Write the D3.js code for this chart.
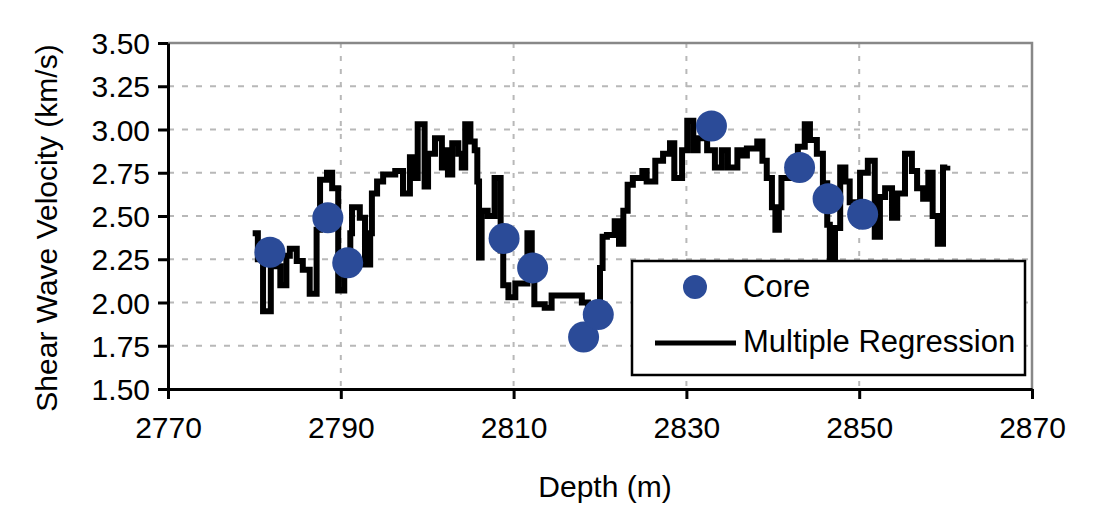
<!DOCTYPE html>
<html><head><meta charset="utf-8">
<script src="https://cdn.jsdelivr.net/npm/d3@7"></script>
<style>body{margin:0;background:#fff}svg text{font-family:"Liberation Sans",Arial,sans-serif;fill:#000}</style>
</head><body><svg id="c" width="1100" height="520"></svg>
<script>
const coreDepth = [2781.8, 2788.5, 2790.8, 2808.9, 2812.2, 2818.1, 2819.8, 2832.9, 2843.1, 2846.4, 2850.4];
const coreVel   = [2.29, 2.49, 2.23, 2.37, 2.20, 1.80, 1.93, 3.02, 2.78, 2.60, 2.51];

const regDepth = [2779.8,2780.4,2781.0,2781.9,2783.0,2783.7,2784.1,2784.9,2785.6,2786.4,2787.2,2787.6,2788.4,2789.0,2789.7,2790.4,2791.1,2791.3,2792.2,2792.8,2793.4,2793.6,2794.2,2794.9,2796.3,2797.2,2798.0,2798.6,2798.9,2799.7,2800.1,2800.9,2801.7,2802.1,2802.4,2802.9,2803.6,2804.0,2804.4,2805.0,2805.5,2805.8,2806.0,2806.3,2807.0,2807.8,2808.5,2808.8,2809.4,2810.2,2811.6,2812.1,2812.4,2813.6,2814.4,2817.9,2818.6,2820.0,2820.3,2820.8,2821.7,2822.2,2822.7,2823.2,2823.8,2824.9,2825.4,2826.4,2827.3,2828.1,2828.6,2829.5,2830.1,2830.8,2831.3,2832.4,2833.3,2834.1,2834.8,2835.9,2836.4,2837.0,2838.2,2838.8,2839.3,2839.9,2840.3,2840.7,2841.0,2842.0,2842.9,2843.7,2844.3,2845.1,2845.8,2846.3,2846.6,2847.2,2847.8,2848.4,2848.9,2849.5,2850.1,2851.0,2851.8,2852.4,2853.0,2853.8,2854.4,2855.3,2856.1,2856.7,2857.4,2858.0,2858.5,2859.1,2859.7,2860.2];
const regVel = [2.40,2.25,1.95,2.21,2.10,2.27,2.31,2.24,2.19,2.05,2.42,2.71,2.75,2.66,2.07,2.22,2.40,2.55,2.49,2.22,2.40,2.63,2.70,2.74,2.76,2.63,2.84,2.72,3.03,2.67,2.86,2.95,2.78,2.88,2.74,2.92,2.86,2.78,3.03,2.93,2.88,2.70,2.26,2.53,2.50,2.72,2.30,2.10,2.03,2.11,2.40,2.22,1.99,1.97,2.04,2.00,1.99,2.20,2.38,2.39,2.47,2.34,2.53,2.68,2.72,2.76,2.70,2.82,2.86,2.92,2.72,2.88,3.05,2.88,2.95,2.88,2.78,2.88,2.78,2.88,2.85,2.89,2.93,2.82,2.72,2.55,2.42,2.55,2.72,2.78,2.90,3.03,2.94,2.86,2.69,2.45,2.24,2.43,2.78,2.70,2.58,2.50,2.75,2.82,2.38,2.61,2.66,2.49,2.63,2.86,2.76,2.66,2.60,2.75,2.50,2.34,2.78,2.79];

const xTicks = [2770, 2790, 2810, 2830, 2850, 2870];
const yTicks = [1.50, 1.75, 2.00, 2.25, 2.50, 2.75, 3.00, 3.25, 3.50];
const xTitle = "Depth (m)";
const yTitle = "Shear Wave Velocity (km/s)";
const legendLabels = ["Core", "Multiple Regression"];

const svg = d3.select("#c");
const L = 168, R = 1032, T = 43, B = 389;
const x = d3.scaleLinear().domain([2770, 2870]).range([L, R]);
const y = d3.scaleLinear().domain([1.5, 3.5]).range([B, T]);
const blue = "#2b4b98";
const FS = 30;

// gridlines
const grid = svg.append("g");
grid.selectAll(".hg").data(yTicks.filter(v => v > 1.5 && v < 3.5)).join("line")
  .attr("x1", L).attr("x2", R).attr("y1", d => y(d)).attr("y2", d => y(d))
  .attr("stroke", "#b8b8b8").attr("stroke-width", 2).attr("stroke-dasharray", "6,8");
grid.selectAll(".vg").data(xTicks.filter(v => v > 2770 && v < 2870)).join("line")
  .attr("y1", T).attr("y2", B).attr("x1", d => x(d)).attr("x2", d => x(d))
  .attr("stroke", "#b8b8b8").attr("stroke-width", 2).attr("stroke-dasharray", "5,8");

// frame top/right
svg.append("path").attr("d", `M${L},${T}H${R}V${B}`).attr("fill", "none")
  .attr("stroke", "#888").attr("stroke-width", 2.5);

// axes
const xa = svg.append("g").attr("transform", `translate(0,${B})`)
  .call(d3.axisBottom(x).tickValues(xTicks).tickFormat(d3.format("d")).tickSize(10).tickSizeOuter(0));
xa.select(".domain").attr("stroke", "#000").attr("stroke-width", 3);
xa.selectAll(".tick line").attr("stroke", "#000").attr("stroke-width", 3);
xa.selectAll(".tick text").attr("font-size", FS).attr("y", 0).attr("dy", 49).attr("font-family", null);

const ya = svg.append("g").attr("transform", `translate(${L},0)`)
  .call(d3.axisLeft(y).tickValues(yTicks).tickFormat(d3.format(".2f")).tickSize(10).tickSizeOuter(0));
ya.select(".domain").attr("stroke", "#000").attr("stroke-width", 3);
ya.selectAll(".tick line").attr("stroke", "#000").attr("stroke-width", 3);
ya.selectAll(".tick text").attr("font-size", FS).attr("x", -18).attr("dy", "0.35em").attr("font-family", null);

// titles
svg.append("text").attr("x", 605).attr("y", 497).attr("text-anchor", "middle")
  .attr("font-size", FS).text(xTitle);
svg.append("text").attr("transform", `translate(57,228) rotate(-90)`)
  .attr("text-anchor", "middle").attr("font-size", FS).text(yTitle);

// regression line
const line = d3.line().x((d, i) => x(regDepth[i])).y((d, i) => y(regVel[i])).curve(d3.curveStepAfter);
svg.append("path").datum(regDepth).attr("d", line).attr("fill", "none")
  .attr("stroke", "#000").attr("stroke-width", 6).attr("stroke-linejoin", "miter");

// core points
svg.selectAll(".core").data(coreDepth).join("circle")
  .attr("cx", d => x(d)).attr("cy", (d, i) => y(coreVel[i])).attr("r", 15.5).attr("fill", blue);

// legend
const lg = svg.append("g");
lg.append("rect").attr("x", 632).attr("y", 261).attr("width", 393).attr("height", 114)
  .attr("fill", "#fff").attr("stroke", "#000").attr("stroke-width", 2.5);
lg.append("circle").attr("cx", 695).attr("cy", 287).attr("r", 12).attr("fill", blue);
lg.append("text").attr("x", 743).attr("y", 297).attr("font-size", 31).text(legendLabels[0]);
lg.append("line").attr("x1", 655).attr("x2", 736).attr("y1", 343).attr("y2", 343)
  .attr("stroke", "#000").attr("stroke-width", 5);
lg.append("text").attr("x", 743).attr("y", 352).attr("font-size", 31).text(legendLabels[1]);
</script>
</body></html>
